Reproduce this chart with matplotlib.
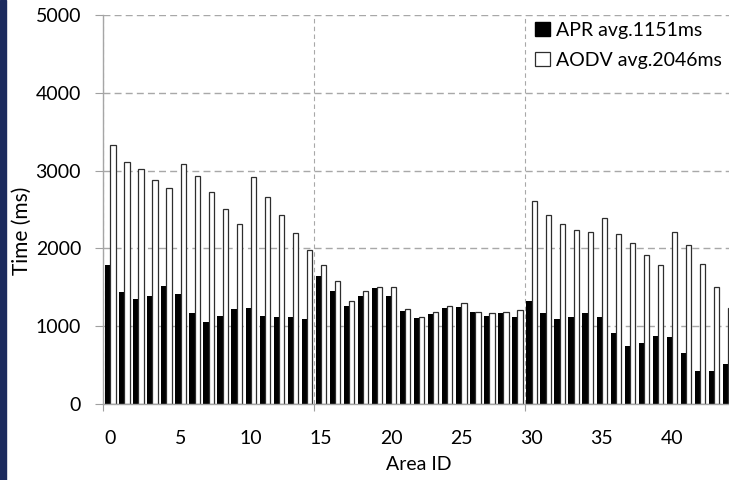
import numpy as np
import matplotlib.pyplot as plt
from matplotlib.patches import Patch, Rectangle
from matplotlib.ticker import FixedLocator

plt.rcParams['font.family'] = ['Lato', 'DejaVu Sans']

# delay per area, ms
area_ids = list(range(45))
apr = [1790, 1435, 1350, 1385, 1515, 1415, 1165, 1060, 1135, 1220,
       1240, 1135, 1115, 1115, 1090, 1645, 1450, 1265, 1390, 1490,
       1390, 1200, 1100, 1155, 1235, 1250, 1180, 1130, 1170, 1115,
       1325, 1165, 1090, 1115, 1165, 1115, 915, 745, 790, 875,
       865, 660, 430, 430, 520]
aodv = [3325, 3105, 3020, 2885, 2770, 3090, 2925, 2720, 2505, 2320,
        2915, 2655, 2425, 2195, 1980, 1790, 1585, 1330, 1455, 1510,
        1500, 1215, 1115, 1180, 1260, 1295, 1185, 1165, 1185, 1205,
        2610, 2435, 2310, 2235, 2210, 2395, 2190, 2070, 1910, 1790,
        2210, 2040, 1800, 1510, 1240]
apr_label = 'APR avg.1151ms'
aodv_label = 'AODV avg.2046ms'
tick_ids = [0, 5, 10, 15, 20, 25, 30, 35, 40]

W, H = 729, 480
fig = plt.figure(figsize=(W / 100, H / 100), dpi=100)
ax = fig.add_axes([103.3 / W, 1 - 404 / H, (W - 103.3) / W, 389 / H])

x = np.array(area_ids)
w = 0.37
ax.bar(x - w / 2, apr, width=w, color='black', linewidth=0, zorder=3)
ax.bar(x + w / 2, aodv, width=w, color='white', edgecolor='#2e2e2e',
       linewidth=0.9, zorder=3)

ax.set_ylim(0, 5000)
ax.set_xlim(-0.5, -0.5 + (W - 103.3) / 14.04)
ax.set_yticks(range(0, 5001, 1000))

# category boundaries every 15 areas carry the vertical grid
ax.xaxis.set_major_locator(FixedLocator([-0.5, 14.5, 29.5, 44.5]))
ax.xaxis.set_minor_locator(FixedLocator(tick_ids))
ax.xaxis.set_major_formatter(plt.NullFormatter())
ax.set_xticklabels([str(t) for t in tick_ids], minor=True)
ax.tick_params(axis='x', which='major', length=5, color='#a0a0a0', direction='out')
ax.tick_params(axis='x', which='minor', length=0, pad=19, labelsize=14)
ax.tick_params(axis='y', length=6, color='#a0a0a0', pad=10, labelsize=14)

ax.set_axisbelow(True)
ax.yaxis.grid(True, color='#a8a8a8', linestyle=(0, (5, 3)), linewidth=1.0)
ax.xaxis.grid(True, which='major', color='#a8a8a8', linestyle=(0, (4, 3)), linewidth=0.8)

for side in ['top', 'right']:
    ax.spines[side].set_visible(False)
for side in ['left', 'bottom']:
    ax.spines[side].set_color('#a6a6a6')
    ax.spines[side].set_linewidth(1.0)
ax.spines['bottom'].set_zorder(4)

fig.text(22 / W, 1 - 231 / H, 'Time (ms)', rotation=90, ha='center', va='center',
         fontsize=15)
fig.text(419 / W, 1 - 464 / H, 'Area ID', ha='center', va='center', fontsize=14)

handles = [Patch(facecolor='black', edgecolor='black'),
           Patch(facecolor='white', edgecolor='#2e2e2e', linewidth=0.9)]
fig.legend(handles, [apr_label, aodv_label], loc='upper left',
           bbox_to_anchor=(533 / W, 1 - 20 / H), frameon=False, fontsize=14,
           handlelength=0.75, handleheight=0.75, handletextpad=0.35,
           labelspacing=0.65, borderaxespad=0, borderpad=0.1)

# slide border on the left edge
fig.patches.append(Rectangle((0, 0), 6 / W, 1, transform=fig.transFigure,
                             color='#1c2b5e', zorder=10))

fig.savefig('out.png', dpi=100)
